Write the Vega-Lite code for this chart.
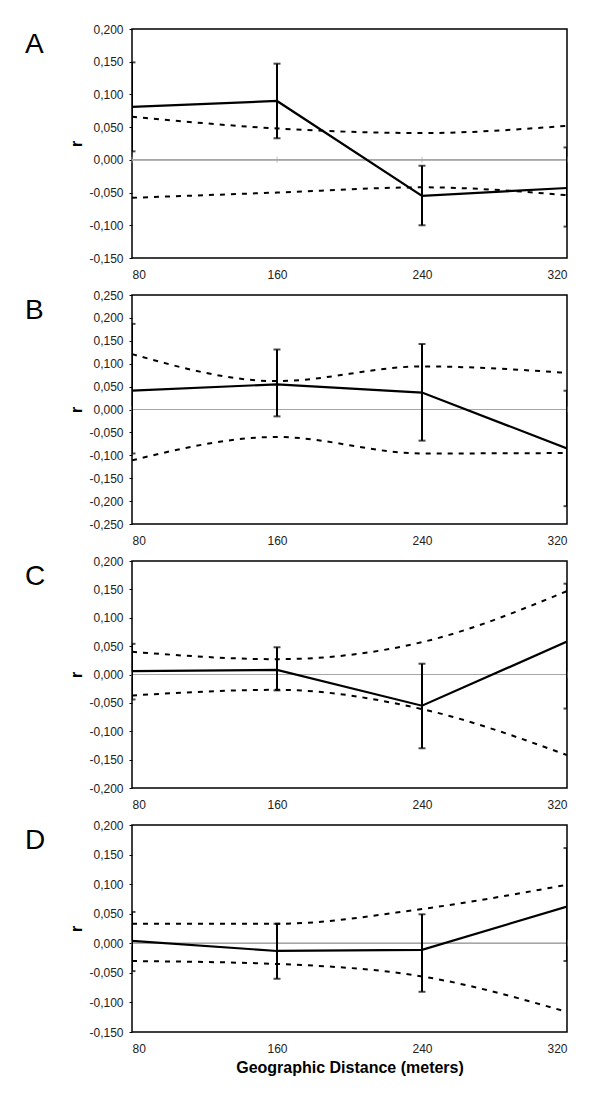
{
  "$schema": "https://vega.github.io/schema/vega-lite/v6.json",
  "padding": {"left": 24, "top": 22, "right": 20, "bottom": 20},
  "datasets": {
    "rows": [
      {"panel": "A", "dist": 80, "r": 0.081, "lo": 0.013, "hi": 0.149, "u": 0.066, "l": -0.058},
      {"panel": "A", "dist": 160, "r": 0.090, "lo": 0.033, "hi": 0.147, "u": 0.048, "l": -0.050},
      {"panel": "A", "dist": 240, "r": -0.055, "lo": -0.100, "hi": -0.009, "u": 0.041, "l": -0.042},
      {"panel": "A", "dist": 320, "r": -0.043, "lo": -0.102, "hi": 0.019, "u": 0.052, "l": -0.054},
      {"panel": "B", "dist": 80, "r": 0.041, "lo": -0.096, "hi": 0.187, "u": 0.121, "l": -0.111},
      {"panel": "B", "dist": 160, "r": 0.055, "lo": -0.015, "hi": 0.131, "u": 0.062, "l": -0.060},
      {"panel": "B", "dist": 240, "r": 0.037, "lo": -0.068, "hi": 0.143, "u": 0.094, "l": -0.096},
      {"panel": "B", "dist": 320, "r": -0.085, "lo": -0.211, "hi": 0.041, "u": 0.080, "l": -0.095},
      {"panel": "C", "dist": 80, "r": 0.006, "lo": -0.044, "hi": 0.054, "u": 0.040, "l": -0.037},
      {"panel": "C", "dist": 160, "r": 0.008, "lo": -0.028, "hi": 0.048, "u": 0.027, "l": -0.027},
      {"panel": "C", "dist": 240, "r": -0.055, "lo": -0.130, "hi": 0.019, "u": 0.057, "l": -0.061},
      {"panel": "C", "dist": 320, "r": 0.058, "lo": -0.060, "hi": 0.160, "u": 0.147, "l": -0.142},
      {"panel": "D", "dist": 80, "r": 0.004, "lo": -0.047, "hi": 0.053, "u": 0.033, "l": -0.030},
      {"panel": "D", "dist": 160, "r": -0.013, "lo": -0.060, "hi": 0.033, "u": 0.033, "l": -0.035},
      {"panel": "D", "dist": 240, "r": -0.011, "lo": -0.082, "hi": 0.049, "u": 0.058, "l": -0.056},
      {"panel": "D", "dist": 320, "r": 0.062, "lo": -0.030, "hi": 0.161, "u": 0.099, "l": -0.116}
    ]
  },
  "config": {
    "locale": {"number": {"decimal": ",", "thousands": ".", "grouping": [3], "currency": ["", ""], "minus": "-"}},
    "font": "Liberation Sans",
    "view": {"stroke": "#000", "strokeWidth": 1.5},
    "axis": {"grid": false, "domain": false, "labelOverlap": false, "tickCount": 20, "labelFont": "Liberation Sans", "labelFontSize": 12, "labelColor": "#222", "titleFont": "Liberation Sans", "titleColor": "#000"},
    "axisX": {"tickSize": 0, "labelPadding": 11, "format": "d"},
    "axisY": {"tickSize": 3, "tickColor": "#000", "labelPadding": 6, "format": ".3f", "titleFontSize": 16, "titleFontWeight": "bold", "titlePadding": 4},
    "title": {"fontSize": 28, "fontWeight": "normal", "anchor": "start", "frame": "group", "dx": -107, "dy": 40, "offset": 0, "baseline": "alphabetic", "font": "Liberation Sans", "color": "#000"}
  },
  "spacing": 37,
  "bounds": "flush",
  "vconcat": [
    {
      "title": "A",
      "width": 435, "height": 229,
      "data": {"name": "rows"},
      "transform": [{"filter": "datum.panel === 'A'"}],
      "layer": [
        {"mark": {"type": "rule", "color": "#a6a6a6", "strokeWidth": 1}, "encoding": {"y": {"datum": 0, "type": "quantitative", "title": "r", "scale": {"domain": [-0.15, 0.2], "nice": false, "zero": false}, "axis": {"values": [-0.15, -0.1, -0.05, 0, 0.05, 0.1, 0.15, 0.2], "tickCount": 20}}}},
        {"mark": {"type": "tick", "orient": "vertical", "color": "#a6a6a6", "size": 6, "thickness": 1}, "encoding": {"x": {"field": "dist", "type": "quantitative", "title": null, "scale": {"domain": [80, 320], "nice": false, "zero": false}, "axis": {"values": [80, 160, 240, 320]}}, "y": {"datum": 0, "type": "quantitative", "title": "r"}}},
        {"mark": {"type": "line", "color": "#000", "strokeWidth": 2, "strokeDash": [5, 6], "interpolate": "monotone", "clip": true}, "encoding": {"x": {"field": "dist", "type": "quantitative", "title": null}, "y": {"field": "u", "type": "quantitative", "title": "r"}}},
        {"mark": {"type": "line", "color": "#000", "strokeWidth": 2, "strokeDash": [5, 6], "interpolate": "monotone", "clip": true}, "encoding": {"x": {"field": "dist", "type": "quantitative", "title": null}, "y": {"field": "l", "type": "quantitative", "title": "r"}}},
        {"mark": {"type": "line", "color": "#000", "strokeWidth": 2.2, "clip": true}, "encoding": {"x": {"field": "dist", "type": "quantitative", "title": null}, "y": {"field": "r", "type": "quantitative", "title": "r"}}},
        {"mark": {"type": "errorbar", "ticks": true, "size": 7, "thickness": 2, "color": "#000", "clip": true}, "encoding": {"x": {"field": "dist", "type": "quantitative", "title": null}, "y": {"field": "lo", "type": "quantitative", "title": "r"}, "y2": {"field": "hi"}}}
      ]
    },
    {
      "title": "B",
      "width": 435, "height": 229,
      "data": {"name": "rows"},
      "transform": [{"filter": "datum.panel === 'B'"}],
      "layer": [
        {"mark": {"type": "rule", "color": "#a6a6a6", "strokeWidth": 1}, "encoding": {"y": {"datum": 0, "type": "quantitative", "title": "r", "scale": {"domain": [-0.25, 0.25], "nice": false, "zero": false}, "axis": {"values": [-0.25, -0.2, -0.15, -0.1, -0.05, 0, 0.05, 0.1, 0.15, 0.2, 0.25], "tickCount": 20}}}},
        {"mark": {"type": "tick", "orient": "vertical", "color": "#a6a6a6", "size": 6, "thickness": 1}, "encoding": {"x": {"field": "dist", "type": "quantitative", "title": null, "scale": {"domain": [80, 320], "nice": false, "zero": false}, "axis": {"values": [80, 160, 240, 320]}}, "y": {"datum": 0, "type": "quantitative", "title": "r"}}},
        {"mark": {"type": "line", "color": "#000", "strokeWidth": 2, "strokeDash": [5, 6], "interpolate": "monotone", "clip": true}, "encoding": {"x": {"field": "dist", "type": "quantitative", "title": null}, "y": {"field": "u", "type": "quantitative", "title": "r"}}},
        {"mark": {"type": "line", "color": "#000", "strokeWidth": 2, "strokeDash": [5, 6], "interpolate": "monotone", "clip": true}, "encoding": {"x": {"field": "dist", "type": "quantitative", "title": null}, "y": {"field": "l", "type": "quantitative", "title": "r"}}},
        {"mark": {"type": "line", "color": "#000", "strokeWidth": 2.2, "clip": true}, "encoding": {"x": {"field": "dist", "type": "quantitative", "title": null}, "y": {"field": "r", "type": "quantitative", "title": "r"}}},
        {"mark": {"type": "errorbar", "ticks": true, "size": 7, "thickness": 2, "color": "#000", "clip": true}, "encoding": {"x": {"field": "dist", "type": "quantitative", "title": null}, "y": {"field": "lo", "type": "quantitative", "title": "r"}, "y2": {"field": "hi"}}}
      ]
    },
    {
      "title": "C",
      "width": 435, "height": 227,
      "data": {"name": "rows"},
      "transform": [{"filter": "datum.panel === 'C'"}],
      "layer": [
        {"mark": {"type": "rule", "color": "#a6a6a6", "strokeWidth": 1}, "encoding": {"y": {"datum": 0, "type": "quantitative", "title": "r", "scale": {"domain": [-0.2, 0.2], "nice": false, "zero": false}, "axis": {"values": [-0.2, -0.15, -0.1, -0.05, 0, 0.05, 0.1, 0.15, 0.2], "tickCount": 20}}}},
        {"mark": {"type": "tick", "orient": "vertical", "color": "#a6a6a6", "size": 6, "thickness": 1}, "encoding": {"x": {"field": "dist", "type": "quantitative", "title": null, "scale": {"domain": [80, 320], "nice": false, "zero": false}, "axis": {"values": [80, 160, 240, 320]}}, "y": {"datum": 0, "type": "quantitative", "title": "r"}}},
        {"mark": {"type": "line", "color": "#000", "strokeWidth": 2, "strokeDash": [5, 6], "interpolate": "monotone", "clip": true}, "encoding": {"x": {"field": "dist", "type": "quantitative", "title": null}, "y": {"field": "u", "type": "quantitative", "title": "r"}}},
        {"mark": {"type": "line", "color": "#000", "strokeWidth": 2, "strokeDash": [5, 6], "interpolate": "monotone", "clip": true}, "encoding": {"x": {"field": "dist", "type": "quantitative", "title": null}, "y": {"field": "l", "type": "quantitative", "title": "r"}}},
        {"mark": {"type": "line", "color": "#000", "strokeWidth": 2.2, "clip": true}, "encoding": {"x": {"field": "dist", "type": "quantitative", "title": null}, "y": {"field": "r", "type": "quantitative", "title": "r"}}},
        {"mark": {"type": "errorbar", "ticks": true, "size": 7, "thickness": 2, "color": "#000", "clip": true}, "encoding": {"x": {"field": "dist", "type": "quantitative", "title": null}, "y": {"field": "lo", "type": "quantitative", "title": "r"}, "y2": {"field": "hi"}}}
      ]
    },
    {
      "title": "D",
      "width": 435, "height": 207,
      "data": {"name": "rows"},
      "transform": [{"filter": "datum.panel === 'D'"}],
      "layer": [
        {"mark": {"type": "rule", "color": "#a6a6a6", "strokeWidth": 1}, "encoding": {"y": {"datum": 0, "type": "quantitative", "title": "r", "scale": {"domain": [-0.15, 0.2], "nice": false, "zero": false}, "axis": {"values": [-0.15, -0.1, -0.05, 0, 0.05, 0.1, 0.15, 0.2], "tickCount": 20}}}},
        {"mark": {"type": "tick", "orient": "vertical", "color": "#a6a6a6", "size": 6, "thickness": 1}, "encoding": {"x": {"field": "dist", "type": "quantitative", "title": "Geographic Distance (meters)", "scale": {"domain": [80, 320], "nice": false, "zero": false}, "axis": {"values": [80, 160, 240, 320], "titleFontSize": 16, "titleFontWeight": "bold", "titlePadding": 5}}, "y": {"datum": 0, "type": "quantitative", "title": "r"}}},
        {"mark": {"type": "line", "color": "#000", "strokeWidth": 2, "strokeDash": [5, 6], "interpolate": "monotone", "clip": true}, "encoding": {"x": {"field": "dist", "type": "quantitative", "title": "Geographic Distance (meters)"}, "y": {"field": "u", "type": "quantitative", "title": "r"}}},
        {"mark": {"type": "line", "color": "#000", "strokeWidth": 2, "strokeDash": [5, 6], "interpolate": "monotone", "clip": true}, "encoding": {"x": {"field": "dist", "type": "quantitative", "title": "Geographic Distance (meters)"}, "y": {"field": "l", "type": "quantitative", "title": "r"}}},
        {"mark": {"type": "line", "color": "#000", "strokeWidth": 2.2, "clip": true}, "encoding": {"x": {"field": "dist", "type": "quantitative", "title": "Geographic Distance (meters)"}, "y": {"field": "r", "type": "quantitative", "title": "r"}}},
        {"mark": {"type": "errorbar", "ticks": true, "size": 7, "thickness": 2, "color": "#000", "clip": true}, "encoding": {"x": {"field": "dist", "type": "quantitative", "title": "Geographic Distance (meters)"}, "y": {"field": "lo", "type": "quantitative", "title": "r"}, "y2": {"field": "hi"}}}
      ]
    }
  ]
}
